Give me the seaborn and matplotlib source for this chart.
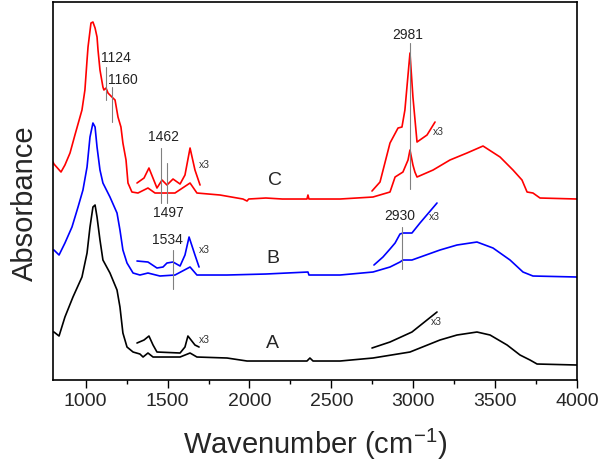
import numpy as np
import pandas as pd
import seaborn as sns
import matplotlib.pyplot as plt
from matplotlib.ticker import MultipleLocator

# spectra (wavenumber in cm-1, absorbance in arbitrary units, offset)
wn_C = [800, 806, 849, 873, 904, 934, 977, 995, 1008, 1014, 1032, 1044, 1057, 1069, 1075, 1087,
        1105, 1111, 1124, 1136, 1160, 1179, 1197, 1215, 1227, 1246, 1258, 1282, 1319, 1380,
        1423, 1545, 1637, 1679, 1820, 1960, 1985, 1995, 2100, 2200,
        2351, 2357, 2363, 2553, 2754, 2858, 2889, 2937, 2968, 2980, 2998, 3010, 3023, 3121,
        3224, 3328, 3426, 3530, 3609, 3664, 3695, 3731, 3774, 4000]
ab_C = [2.18, 2.16, 2.08, 2.15, 2.27, 2.45, 2.70, 2.90, 3.20, 3.33, 3.57, 3.58, 3.52, 3.43, 3.30, 3.10,
        2.93, 2.90, 2.92, 2.87, 2.83, 2.80, 2.63, 2.53, 2.37, 2.20, 1.97, 1.88, 1.87, 1.92,
        1.87, 1.87, 1.97, 1.87, 1.85, 1.81, 1.79, 1.81, 1.82, 1.81,
        1.81, 1.85, 1.81, 1.81, 1.83, 1.88, 2.03, 2.08, 2.20, 2.30, 2.15, 2.08, 2.03, 2.10,
        2.20, 2.27, 2.34, 2.23, 2.10, 2.00, 1.88, 1.87, 1.82, 1.81]

wn_B = [800, 806, 837, 873, 916, 953, 983, 1008, 1026, 1044, 1057, 1069, 1087, 1105, 1148,
        1191, 1209, 1227, 1252, 1289, 1331, 1380,
        1453, 1545, 1637, 1679, 1863, 2100, 2357, 2363, 2553, 2754, 2858, 2919, 2937, 2992,
        3163, 3267, 3389, 3487, 3591, 3670, 3731, 4000]
ab_B = [1.30, 1.30, 1.25, 1.37, 1.53, 1.73, 1.90, 2.13, 2.43, 2.57, 2.53, 2.33, 2.10, 1.97, 1.83,
        1.67, 1.50, 1.30, 1.17, 1.07, 1.05, 1.07,
        1.04, 1.05, 1.13, 1.05, 1.05, 1.06, 1.08, 1.05, 1.05, 1.08, 1.13, 1.18, 1.20, 1.20,
        1.30, 1.35, 1.38, 1.32, 1.20, 1.08, 1.04, 1.03]

wn_A = [800, 806, 837, 873, 922, 977, 1008, 1026, 1044, 1057, 1069, 1087, 1105, 1148, 1191,
        1209, 1227, 1252, 1289, 1331,
        1350, 1380, 1411, 1453, 1576, 1637, 1679, 1863, 1985, 2351, 2369, 2388, 2553, 2754,
        2980, 3163, 3267, 3389, 3469, 3573, 3652, 3713, 3756, 4000]
ab_A = [0.48, 0.48, 0.44, 0.63, 0.83, 1.03, 1.27, 1.53, 1.73, 1.75, 1.63, 1.40, 1.20, 1.07, 0.90,
        0.73, 0.47, 0.33, 0.28, 0.26,
        0.23, 0.27, 0.23, 0.23, 0.23, 0.27, 0.23, 0.22, 0.19, 0.19, 0.22, 0.19, 0.19, 0.22,
        0.28, 0.40, 0.45, 0.48, 0.45, 0.35, 0.25, 0.20, 0.16, 0.15]

# x3 expanded segments
wn_C3a = [1313, 1356, 1386, 1435, 1466, 1496, 1533, 1576, 1606, 1637, 1667, 1698]
ab_C3a = [1.97, 2.02, 2.12, 1.92, 2.00, 1.95, 2.01, 1.96, 2.05, 2.32, 2.10, 1.95]
wn_C3b = [2748, 2797, 2858, 2907, 2931, 2949, 2968, 2980, 2998, 3023, 3084, 3133]
ab_C3b = [1.89, 1.98, 2.37, 2.52, 2.53, 2.70, 3.05, 3.27, 2.83, 2.38, 2.45, 2.58]

wn_B3a = [1313, 1380, 1435, 1472, 1496, 1533, 1576, 1606, 1631, 1667, 1692]
ab_B3a = [1.19, 1.18, 1.12, 1.13, 1.17, 1.18, 1.14, 1.25, 1.43, 1.25, 1.13]
wn_B3b = [2760, 2815, 2858, 2889, 2919, 2937, 2992, 3041, 3145]
ab_B3b = [1.15, 1.23, 1.31, 1.37, 1.46, 1.47, 1.47, 1.57, 1.77]

wn_A3a = [1313, 1356, 1386, 1411, 1435, 1576, 1606, 1624, 1667, 1692]
ab_A3a = [0.37, 0.40, 0.44, 0.35, 0.28, 0.27, 0.33, 0.44, 0.35, 0.33]
wn_A3b = [2748, 2858, 2992, 3145]
ab_A3b = [0.32, 0.38, 0.48, 0.68]

# marked bands: label, text position, line start/end
band_lbl = ['1124', '1160', '1462', '1497', '1534', '2981', '2930']
band_txt = [(1183, 3.22), (1227, 3.00), (1472, 2.43), (1502, 1.67), (1496, 1.40), (2968, 3.45), (2919, 1.64)]
band_y = [(3.13, 2.80), (2.93, 2.58), (2.32, 1.77), (2.17, 1.77), (1.30, 0.91), (3.37, 1.91), (1.53, 1.11)]

sns.set_style("ticks")
plt.rcParams['font.family'] = ['Liberation Sans', 'DejaVu Sans']
plt.rcParams['mathtext.fontset'] = 'custom'
plt.rcParams['mathtext.rm'] = 'Liberation Sans'
plt.rcParams['axes.unicode_minus'] = False

fig = plt.figure(figsize=(6, 4.68), dpi=100)
ax = fig.add_axes([0.0883, 0.188, 0.8734, 0.8077])

curves = [(wn_C, ab_C, 'red'), (wn_C3a, ab_C3a, 'red'), (wn_C3b, ab_C3b, 'red'),
          (wn_B, ab_B, 'blue'), (wn_B3a, ab_B3a, 'blue'), (wn_B3b, ab_B3b, 'blue'),
          (wn_A, ab_A, 'black'), (wn_A3a, ab_A3a, 'black'), (wn_A3b, ab_A3b, 'black')]
for x, y, c in curves:
    sns.lineplot(x=x, y=y, color=c, lw=1.2, ax=ax, sort=False)

for lbl, (tx, ty), (y0, y1) in zip(band_lbl, band_txt, band_y):
    ax.plot([float(lbl)] * 2, [y0, y1], color='#808080', lw=0.8)
    ax.text(tx, ty, lbl, ha='center', va='center', fontsize=10, color='#222222')

for t, x, y in [('C', 2156, 2.00), ('B', 2143, 1.22), ('A', 2143, 0.37)]:
    ax.text(x, y, t, ha='center', va='center', fontsize=14)
for x, y in [(1690, 2.15), (1690, 1.30), (1690, 0.40), (3121, 2.48), (3096, 1.63), (3108, 0.58)]:
    ax.text(x, y, 'x3', ha='left', va='center', fontsize=7.5, color='#333333')

ax.set_xlim(800, 4000)
ax.set_ylim(0, 3.78)
ax.set_yticks([])
ax.xaxis.set_major_locator(MultipleLocator(500))
ax.xaxis.set_minor_locator(MultipleLocator(250))
ax.tick_params(axis='x', which='major', length=5.5, width=1, pad=4, labelsize=14, direction='out', color='black')
ax.tick_params(axis='x', which='minor', length=3, width=1, direction='out', color='black')
for s in ax.spines.values():
    s.set_visible(True)
    s.set_linewidth(1.2)
    s.set_color('black')
ax.set_xlabel('Wavenumber (cm$^{\\mathregular{-1}}$)', fontsize=21, labelpad=12)
ax.set_ylabel('Absorbance', fontsize=21, labelpad=10, y=0.468)

fig.savefig('out.png', dpi=100)
